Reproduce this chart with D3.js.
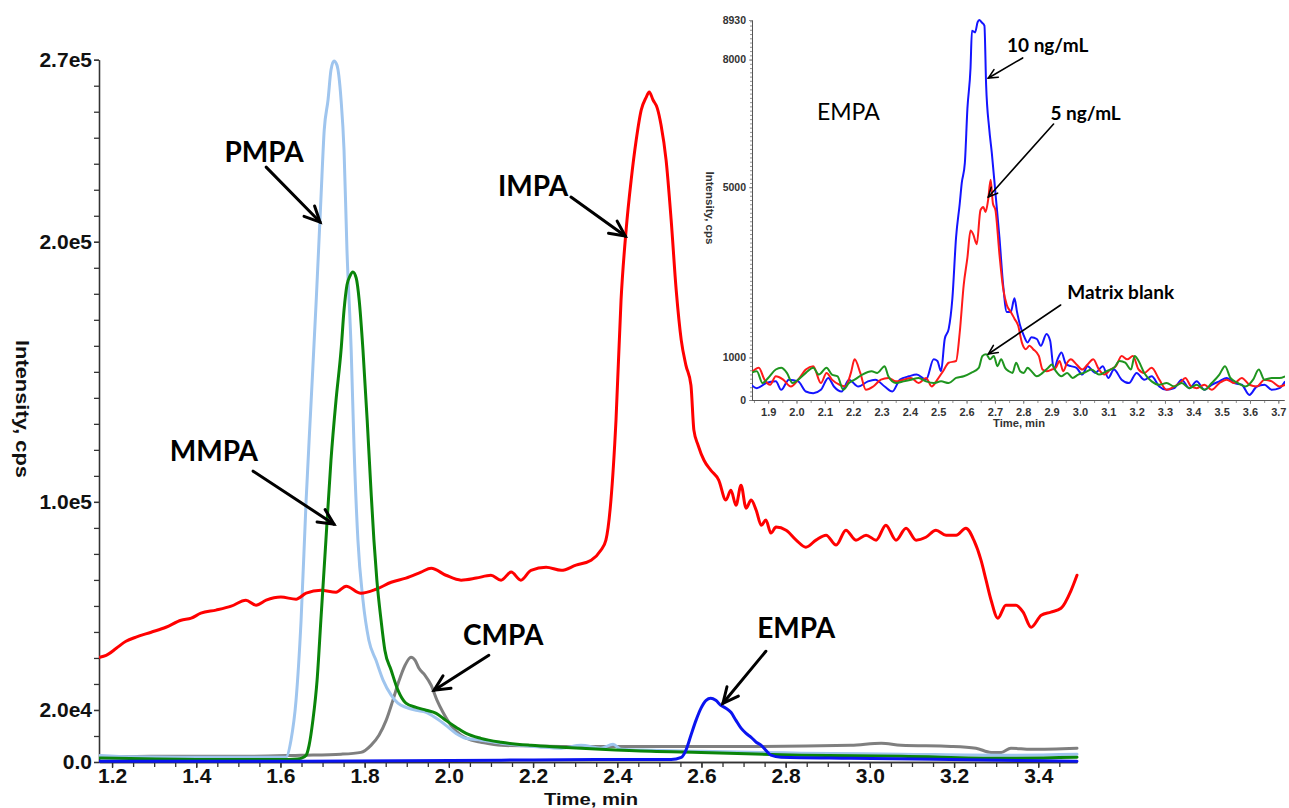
<!DOCTYPE html>
<html><head><meta charset="utf-8">
<script src="https://cdn.jsdelivr.net/npm/d3@7"></script>
<style>
html,body{margin:0;padding:0;background:#fff;}
svg{display:block;}
</style></head>
<body>
<svg id="chart" width="1289" height="808"></svg>
<script>
// ---------------- DATA (time in min, intensity in cps) ----------------
const mainYTicks = [0, 20000, 100000, 200000, 270000];
const mainYTickLabels = ["0.0", "2.0e4", "1.0e5", "2.0e5", "2.7e5"];
const mainXTicks = [1.2, 1.4, 1.6, 1.8, 2.0, 2.2, 2.4, 2.6, 2.8, 3.0, 3.2, 3.4];

const impa = [[1.171,40300],[1.186,41000],[1.210,43700],[1.233,46400],[1.257,48000],[1.293,49900],[1.328,51800],[1.364,54500],[1.388,55300],[1.411,57200],
[1.447,58400],[1.483,59900],[1.518,62200],[1.542,60300],[1.566,62200],[1.601,63400],[1.637,62600],[1.661,64900],[1.696,66000],[1.732,65300],
[1.756,67600],[1.791,64900],[1.827,66400],[1.863,69100],[1.898,70700],[1.934,73000],[1.958,74500],[1.993,71800],[2.029,69900],[2.065,70700],
[2.100,71800],[2.124,69900],[2.148,73000],[2.171,69900],[2.195,73700],[2.231,74900],[2.267,73700],[2.302,75700],[2.338,77600],[2.361,81400],
[2.373,85300],[2.385,100700],[2.397,131400],[2.409,177600],[2.421,204500],[2.433,223700],[2.445,239100],[2.457,250700],[2.468,255300],[2.476,257600],
[2.485,254500],[2.495,251400],[2.504,244900],[2.516,231400],[2.528,208400],[2.540,181400],[2.552,162200],[2.563,152600],[2.575,144900],[2.582,127600],
[2.592,121800],[2.606,116000],[2.622,112200],[2.641,108400],[2.658,100700],[2.670,104500],[2.682,98700],[2.694,106400],[2.706,97600],[2.718,100700],
[2.730,96800],[2.742,91000],[2.753,93000],[2.765,88000],[2.777,90300],[2.801,89100],[2.825,85300],[2.848,82600],[2.872,85300],[2.896,87200],
[2.920,83400],[2.943,89100],[2.967,85300],[2.991,87200],[3.015,85300],[3.038,91000],[3.062,85300],[3.086,89900],[3.110,85300],[3.133,86400],
[3.157,89100],[3.181,87200],[3.205,87200],[3.228,89900],[3.247,85300],[3.264,77600],[3.276,69900],[3.288,62200],[3.304,55300],[3.323,60300],
[3.347,60300],[3.364,57600],[3.383,51800],[3.407,56400],[3.430,57600],[3.454,59100],[3.478,66000],[3.492,71800]];

const pmpa = [[1.171,2500],[1.250,2000],[1.400,1800],[1.550,1800],[1.613,1800],[1.625,8400],[1.637,23700],[1.649,54500],[1.661,100700],[1.673,139100],
[1.685,177600],[1.696,216000],[1.704,243000],[1.713,254500],[1.720,266000],[1.727,269500],[1.734,268000],[1.744,254500],[1.751,235300],[1.758,196800],
[1.768,158400],[1.775,119900],[1.784,85300],[1.796,62200],[1.810,46800],[1.827,39100],[1.844,31400],[1.863,25700],[1.879,22600],[1.898,21000],
[1.922,19900],[1.946,19100],[1.970,16800],[1.993,14100],[2.017,11000],[2.041,9100],[2.076,8400],[2.124,7200],[2.171,6400],[2.219,5700],
[2.267,5300],[2.314,6400],[2.361,5300],[2.390,6800],[2.409,4900],[2.480,4500],[2.599,4100],[2.742,3700],[2.837,3400],[3.074,3000],
[3.312,2600],[3.492,3000]];

const mmpa = [[1.171,1500],[1.400,1000],[1.600,1000],[1.640,1200],[1.649,1400],[1.661,2600],[1.668,6400],[1.677,16000],[1.687,31400],[1.696,54500],
[1.708,85300],[1.720,116000],[1.732,139100],[1.744,158400],[1.751,173700],[1.758,183400],[1.765,186800],[1.772,188400],[1.780,186000],[1.787,177600],
[1.796,158400],[1.806,131400],[1.815,104500],[1.822,85300],[1.829,69900],[1.839,54500],[1.848,43000],[1.863,35300],[1.879,27600],[1.898,22600],
[1.922,21000],[1.946,19900],[1.970,18700],[1.993,16000],[2.017,13400],[2.041,11000],[2.076,9100],[2.124,7600],[2.195,6400],[2.267,5700],
[2.361,4900],[2.480,4100],[2.599,3700],[2.837,2600],[3.074,2200],[3.312,1400],[3.492,1800]];

const cmpa = [[1.171,1800],[1.293,2200],[1.411,2200],[1.530,2200],[1.649,2600],[1.744,3000],[1.791,3700],[1.815,6400],[1.834,10300],[1.851,16000],
[1.867,23700],[1.882,31400],[1.896,37200],[1.910,40300],[1.920,39100],[1.929,36000],[1.943,33400],[1.958,29500],[1.972,23700],[1.986,19100],
[2.005,14100],[2.029,10300],[2.053,8400],[2.076,7600],[2.124,6400],[2.267,6000],[2.480,6000],[2.718,6000],[2.955,6400],[3.027,7200],
[3.074,6400],[3.193,6000],[3.252,5300],[3.288,3700],[3.312,3700],[3.335,5300],[3.383,4900],[3.492,5300]];

const empa = [[1.171,300],[1.649,300],[2.124,700],[2.361,1000],[2.528,1000],[2.552,1800],[2.563,4500],[2.575,10300],[2.587,16000],[2.599,20700],
[2.611,23700],[2.622,24500],[2.634,23700],[2.646,21800],[2.658,20700],[2.670,19100],[2.682,16000],[2.694,13000],[2.706,11000],[2.718,9500],
[2.730,7600],[2.742,6400],[2.753,4500],[2.765,2600],[2.789,1800],[2.955,1400],[3.312,700],[3.492,300]];

// inset (EMPA, 10 ng/mL, 5 ng/mL, matrix blank)
const insetYTicks = [0, 1000, 5000, 8000, 8930];
const insetXTicks = [1.9,2.0,2.1,2.2,2.3,2.4,2.5,2.6,2.7,2.8,2.9,3.0,3.1,3.2,3.3,3.4,3.5,3.6,3.7];

const ins10 = [[1.840,358],[1.860,279],[1.893,398],[1.927,438],[1.946,239],[1.973,478],[2.006,438],[2.033,199],[2.059,159],[2.086,239],[2.112,518],[2.132,318],[2.159,199],[2.185,478],[2.218,318],[2.252,438],[2.278,478],[2.311,318],[2.338,199],[2.365,478],[2.397,557],[2.424,597],[2.457,478],[2.484,955],[2.497,916],[2.510,677],[2.523,1433],[2.537,1672],[2.550,2389],[2.563,3822],[2.576,4618],[2.583,5096],[2.594,5573],[2.603,6847],[2.614,7803],[2.619,8679],[2.630,8639],[2.639,8878],[2.645,8930],[2.653,8878],[2.663,8798],[2.669,7405],[2.680,6370],[2.689,5812],[2.702,4857],[2.716,3822],[2.729,2707],[2.742,2070],[2.756,2070],[2.769,2389],[2.778,2070],[2.789,1752],[2.802,1513],[2.815,1354],[2.829,1473],[2.848,1433],[2.862,1274],[2.882,1553],[2.895,1393],[2.908,717],[2.921,955],[2.935,1115],[2.951,836],[2.968,796],[2.988,756],[3.008,597],[3.027,796],[3.054,637],[3.081,796],[3.100,518],[3.120,717],[3.147,478],[3.173,398],[3.200,637],[3.227,478],[3.253,557],[3.280,318],[3.306,239],[3.333,279],[3.359,478],[3.386,279],[3.412,438],[3.439,239],[3.465,358],[3.492,438],[3.518,518],[3.545,398],[3.571,358],[3.598,119],[3.624,318],[3.651,358],[3.677,239],[3.704,279],[3.724,438]];

const ins5 = [[1.840,637],[1.867,756],[1.887,478],[1.907,358],[1.927,557],[1.953,478],[1.980,318],[2.006,478],[2.033,717],[2.059,796],[2.086,398],[2.106,637],[2.125,478],[2.152,358],[2.172,318],[2.192,637],[2.205,955],[2.225,637],[2.245,239],[2.271,318],[2.298,478],[2.324,518],[2.351,438],[2.378,478],[2.404,518],[2.431,398],[2.457,518],[2.477,318],[2.497,478],[2.517,677],[2.537,876],[2.563,916],[2.576,1592],[2.590,2707],[2.603,3344],[2.614,3981],[2.623,3901],[2.636,3663],[2.649,4459],[2.659,4538],[2.667,4419],[2.676,4698],[2.685,5175],[2.693,4618],[2.702,4459],[2.716,3424],[2.729,2627],[2.742,2229],[2.756,2070],[2.769,1911],[2.782,1752],[2.795,1354],[2.809,1194],[2.822,1274],[2.835,1194],[2.855,1035],[2.868,717],[2.882,677],[2.901,717],[2.915,756],[2.928,916],[2.941,677],[2.955,876],[2.968,955],[2.988,836],[3.008,717],[3.027,836],[3.047,955],[3.067,717],[3.087,597],[3.107,717],[3.127,796],[3.147,1035],[3.167,955],[3.187,1035],[3.207,717],[3.227,637],[3.253,756],[3.280,478],[3.306,239],[3.333,318],[3.353,398],[3.372,518],[3.392,318],[3.412,279],[3.439,358],[3.465,239],[3.492,398],[3.518,478],[3.545,398],[3.571,518],[3.598,358],[3.624,318],[3.651,478],[3.677,438],[3.704,318],[3.724,358]];

const insBlank = [[1.840,637],[1.860,677],[1.880,398],[1.900,518],[1.927,717],[1.946,756],[1.966,637],[1.986,398],[2.006,478],[2.033,637],[2.059,756],[2.079,597],[2.106,756],[2.125,597],[2.145,557],[2.165,239],[2.185,398],[2.205,478],[2.232,597],[2.265,677],[2.285,637],[2.311,796],[2.324,557],[2.351,398],[2.378,438],[2.404,478],[2.431,518],[2.457,438],[2.484,398],[2.510,438],[2.537,398],[2.563,518],[2.590,557],[2.616,637],[2.643,756],[2.656,1035],[2.669,1075],[2.683,955],[2.696,1035],[2.709,796],[2.722,955],[2.736,756],[2.749,677],[2.762,637],[2.775,876],[2.789,677],[2.802,637],[2.815,756],[2.829,677],[2.848,557],[2.868,637],[2.888,756],[2.901,836],[2.915,677],[2.935,557],[2.955,637],[2.974,518],[2.994,597],[3.014,637],[3.041,717],[3.067,597],[3.094,677],[3.120,756],[3.140,916],[3.160,876],[3.180,717],[3.193,1035],[3.207,916],[3.227,637],[3.253,438],[3.280,358],[3.306,398],[3.333,318],[3.359,398],[3.386,279],[3.412,358],[3.439,239],[3.465,398],[3.492,597],[3.512,796],[3.531,518],[3.558,398],[3.584,318],[3.611,478],[3.631,717],[3.651,478],[3.677,518],[3.704,518],[3.724,557]];

// annotation anchors (data coordinates): label position, arrow start, arrow tip
const mainLabels = [
  {text:"PMPA", at:[1.561,234500], from:[1.566,228700], to:[1.694,207580]},
  {text:"IMPA", at:[2.200,221400], from:[2.290,217190], to:[2.419,202190]},
  {text:"MMPA", at:[1.442,119500], from:[1.535,111810], to:[1.727,91420]},
  {text:"CMPA", at:[2.129,48730],  from:[2.095,41040],  to:[1.965,27580]},
  {text:"EMPA", at:[2.825,51420],  from:[2.753,42580],  to:[2.651,22580]}
];
const insetLabels = [
  {text:"10 ng/mL",     at:[2.886,8343], from:[2.798,8038], to:[2.677,7568]},
  {text:"5 ng/mL",      at:[3.020,6745], from:[2.907,6486], to:[2.677,4771]},
  {text:"Matrix blank", at:[3.144,2538], from:[2.932,2233], to:[2.677,1081]}
];

// ---------------- DRAW ----------------
const svg = d3.select("#chart");
const axisColor = "#333";

// main scales
const x = d3.scaleLinear().domain([1.169, 3.492]).range([99, 1077]);
const y = d3.scaleLinear().domain([0, 270000]).range([762, 59.7]);

const main = svg.append("g");
main.append("defs").append("clipPath").attr("id","mainclip")
  .append("rect").attr("x",99).attr("y",50).attr("width",980).attr("height",713);

// axes
const xMinor = d3.range(1.2, 3.46, 0.05);
const xAxisMinor = d3.axisBottom(x).tickValues(xMinor).tickSize(5).tickSizeOuter(0).tickFormat("");
main.append("g").attr("transform","translate(0,762)").call(xAxisMinor);
const xAxis = d3.axisBottom(x).tickValues(mainXTicks).tickSize(6).tickSizeOuter(0).tickFormat(d3.format(".1f"));
const gx = main.append("g").attr("transform","translate(0,762)").call(xAxis);
gx.selectAll("text").attr("y",4).attr("dy", "0.8em")
  .style("font-family","'Liberation Sans', Arial, sans-serif").style("font-weight","bold")
  .style("font-size","21px").attr("fill","#111");

const yMinor = d3.range(0, 270001, 10000);
const yAxisMinor = d3.axisLeft(y).tickValues(yMinor).tickSize(5).tickSizeOuter(0).tickFormat("");
main.append("g").attr("transform","translate(99,0)").call(yAxisMinor);
const yAxis = d3.axisLeft(y).tickValues(mainYTicks).tickSize(5).tickSizeOuter(0)
  .tickFormat((d,i)=>mainYTickLabels[i]);
const gy = main.append("g").attr("transform","translate(99,0)").call(yAxis);
gy.selectAll("text").attr("x",-7)
  .style("font-family","'Liberation Sans', Arial, sans-serif").style("font-weight","bold")
  .style("font-size","21px").attr("fill","#111");
main.selectAll(".domain, .tick line").attr("stroke",axisColor).attr("stroke-width",1.3);

// axis titles
main.append("text").attr("x",591).attr("y",804.5).attr("text-anchor","middle")
  .attr("textLength",94).attr("lengthAdjust","spacingAndGlyphs")
  .style("font-family","'Liberation Sans', Arial, sans-serif").style("font-weight","bold")
  .style("font-size","17px").attr("fill","#111").text("Time, min");
main.append("text").attr("transform","translate(16,409) rotate(90)").attr("text-anchor","middle")
  .attr("textLength",138).attr("lengthAdjust","spacingAndGlyphs")
  .style("font-family","'Liberation Sans', Arial, sans-serif").style("font-weight","bold")
  .style("font-size","19px").attr("fill","#111").text("Intensity, cps");

// lines
const line = d3.line().x(d=>x(d[0])).y(d=>y(d[1])).curve(d3.curveMonotoneX);
const series = [
  {data:cmpa, color:"#7f7f7f"},
  {data:pmpa, color:"#9fc5ee"},
  {data:impa, color:"#ff0000"},
  {data:mmpa, color:"#0a850a"},
  {data:empa, color:"#0a14f0"}
];
const linesG = main.append("g").attr("clip-path","url(#mainclip)");
series.forEach(s=>{
  linesG.append("path").datum(s.data).attr("d",line)
    .attr("fill","none").attr("stroke",s.color).attr("stroke-width",3)
    .attr("stroke-linejoin","round").attr("stroke-linecap","round");
});

// arrows
function arrow(g, x1,y1,x2,y2, head, w){
  g.append("line").attr("x1",x1).attr("y1",y1).attr("x2",x2).attr("y2",y2)
    .attr("stroke","#000").attr("stroke-width",w).attr("stroke-linecap","round");
  const a = Math.atan2(y2-y1, x2-x1);
  const sp = 0.45;
  const p1 = [x2 - head*Math.cos(a-sp), y2 - head*Math.sin(a-sp)];
  const p2 = [x2 - head*Math.cos(a+sp), y2 - head*Math.sin(a+sp)];
  g.append("path").attr("d",`M${p1[0]},${p1[1]}L${x2},${y2}L${p2[0]},${p2[1]}`)
    .attr("fill","none").attr("stroke","#000").attr("stroke-width",w)
    .attr("stroke-linejoin","miter").attr("stroke-linecap","round");
}
const annG = svg.append("g");
mainLabels.forEach(l=>{
  annG.append("text").attr("x",x(l.at[0])).attr("y",y(l.at[1])).attr("dy","0.36em")
    .attr("text-anchor","middle")
    .style("font-family","Lato, 'Open Sans', sans-serif").style("font-weight","bold")
    .style("font-size","28px").attr("fill","#000").text(l.text);
  arrow(annG, x(l.from[0]), y(l.from[1]), x(l.to[0]), y(l.to[1]), 17, 3);
});

// ---------------- INSET ----------------
const ix = d3.scaleLinear().domain([1.843, 3.72]).range([752, 1284]);
const iy = d3.scaleLinear().domain([0, 8930]).range([400, 20]);
const inset = svg.append("g");
inset.append("defs").append("clipPath").attr("id","insclip")
  .append("rect").attr("x",752).attr("y",10).attr("width",533).attr("height",391);

const ixMinor = d3.range(1.85, 3.71, 0.05);
inset.append("g").attr("transform","translate(0,400)")
  .call(d3.axisBottom(ix).tickValues(ixMinor).tickSize(3).tickSizeOuter(0).tickFormat(""));
const gix = inset.append("g").attr("transform","translate(0,400)")
  .call(d3.axisBottom(ix).tickValues(insetXTicks).tickSize(4).tickSizeOuter(0).tickFormat(d3.format(".1f")));
gix.selectAll("text").attr("dy","0.85em")
  .style("font-family","'Liberation Sans', Arial, sans-serif").style("font-weight","bold")
  .style("font-size","11px").attr("fill","#333");

const iyMinor = d3.range(0, 8931, 100);
inset.append("g").attr("transform","translate(752,0)")
  .call(d3.axisLeft(iy).tickValues(iyMinor).tickSize(2).tickSizeOuter(0).tickFormat(""));
const giy = inset.append("g").attr("transform","translate(752,0)")
  .call(d3.axisLeft(iy).tickValues(insetYTicks).tickSize(3).tickSizeOuter(0).tickFormat(d3.format("d")));
giy.selectAll("text").attr("x",-6)
  .style("font-family","'Liberation Sans', Arial, sans-serif").style("font-weight","bold")
  .style("font-size","10.5px").attr("fill","#333");
inset.selectAll(".domain").attr("stroke","#555").attr("stroke-width",1);
inset.selectAll(".tick line").attr("stroke","#777").attr("stroke-width",0.8);

inset.append("text").attr("x",1019).attr("y",427).attr("text-anchor","middle")
  .attr("textLength",52).attr("lengthAdjust","spacingAndGlyphs")
  .style("font-family","'Liberation Sans', Arial, sans-serif").style("font-weight","bold")
  .style("font-size","10.5px").attr("fill","#333").text("Time, min");
inset.append("text").attr("transform","translate(706,208) rotate(90)").attr("text-anchor","middle")
  .attr("textLength",73).attr("lengthAdjust","spacingAndGlyphs")
  .style("font-family","'Liberation Sans', Arial, sans-serif").style("font-weight","bold")
  .style("font-size","10.5px").attr("fill","#333").text("Intensity, cps");

const iline = d3.line().x(d=>ix(d[0])).y(d=>iy(d[1])).curve(d3.curveMonotoneX);
const iseries = [
  {data:ins10, color:"#1414ff"},
  {data:ins5, color:"#ff1a1a"},
  {data:insBlank, color:"#1f951f"}
];
const ilG = inset.append("g").attr("clip-path","url(#insclip)");
iseries.forEach(s=>{
  ilG.append("path").datum(s.data).attr("d",iline)
    .attr("fill","none").attr("stroke",s.color).attr("stroke-width",2)
    .attr("stroke-linejoin","round");
});

inset.append("text").attr("x",ix(2.183)).attr("y",iy(6769)).attr("dy","0.36em")
  .attr("text-anchor","middle")
  .style("font-family","Lato, 'Open Sans', sans-serif").style("font-weight","normal")
  .style("font-size","23px").attr("fill","#000").text("EMPA");
insetLabels.forEach(l=>{
  inset.append("text").attr("x",ix(l.at[0])).attr("y",iy(l.at[1])).attr("dy","0.36em")
    .attr("text-anchor","middle")
    .style("font-family","Lato, 'Open Sans', sans-serif").style("font-weight","bold")
    .style("font-size","19px").attr("fill","#000").text(l.text);
  arrow(inset, ix(l.from[0]), iy(l.from[1]), ix(l.to[0]), iy(l.to[1]), 10, 1.6);
});
</script>
</body></html>
